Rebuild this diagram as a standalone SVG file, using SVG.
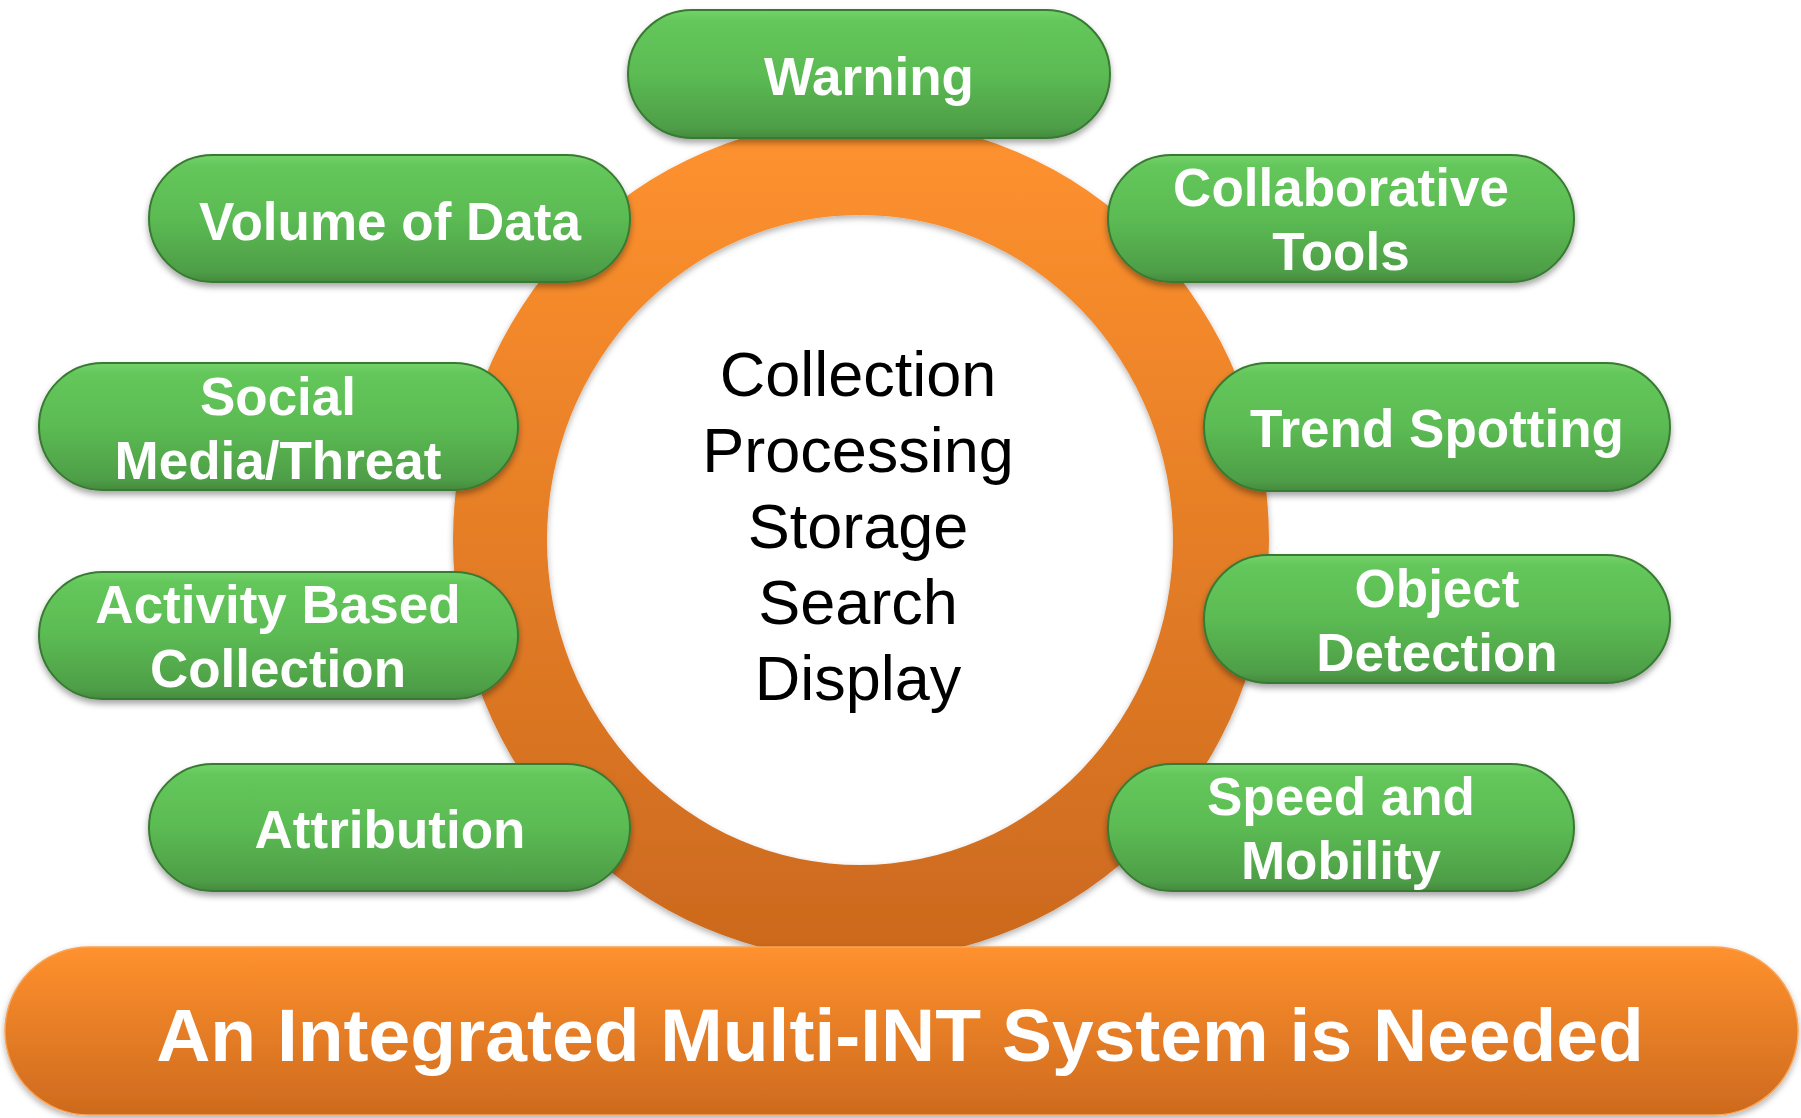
<svg xmlns="http://www.w3.org/2000/svg" width="1801" height="1118" viewBox="0 0 1801 1118">
  <style>
    .pill { fill: url(#greenGrad); stroke: #397a33; stroke-width: 2; filter: url(#pillShadow); }
    .lbl { font-family: "Liberation Sans", Arial, sans-serif; font-weight: bold; font-size: 53px; fill: #ffffff; text-anchor: middle; }
    .core { font-family: "Liberation Sans", Arial, sans-serif; font-size: 63px; fill: #000000; text-anchor: middle; }
    .banner { font-family: "Liberation Sans", Arial, sans-serif; font-weight: bold; font-size: 75px; fill: #ffffff; text-anchor: middle; }
  </style>
  <defs>
    <linearGradient id="greenGrad" x1="0" y1="0" x2="0" y2="1">
      <stop offset="0" stop-color="#74d36b"/>
      <stop offset="0.08" stop-color="#64c75b"/>
      <stop offset="0.5" stop-color="#5bbb53"/>
      <stop offset="0.92" stop-color="#4e9e47"/>
      <stop offset="1" stop-color="#44893e"/>
    </linearGradient>
    <linearGradient id="ringGrad" gradientUnits="userSpaceOnUse" x1="0" y1="120" x2="0" y2="960">
      <stop offset="0" stop-color="#ff922f"/>
      <stop offset="1" stop-color="#cb691e"/>
    </linearGradient>
    <linearGradient id="barGrad" x1="0" y1="0" x2="0" y2="1">
      <stop offset="0" stop-color="#ff912e"/>
      <stop offset="1" stop-color="#cd6a1e"/>
    </linearGradient>
    <filter id="pillShadow" x="-10%" y="-20%" width="120%" height="150%">
      <feDropShadow dx="0" dy="4" stdDeviation="3" flood-color="#000" flood-opacity="0.35"/>
    </filter>
    <filter id="ringShadow" x="-10%" y="-10%" width="120%" height="120%">
      <feDropShadow dx="0" dy="3" stdDeviation="3" flood-color="#000" flood-opacity="0.3"/>
    </filter>
  </defs>

  <rect x="0" y="0" width="1801" height="1118" fill="#ffffff"/>

  <g id="ring">
    <path d="M 453,540 A 408,420 0 1,0 1269,540 A 408,420 0 1,0 453,540 Z M 547,540 A 313,325 0 1,0 1173,540 A 313,325 0 1,0 547,540 Z" fill="url(#ringGrad)" fill-rule="evenodd" filter="url(#ringShadow)"/>
    <text class="core" x="858" y="396">Collection</text>
    <text class="core" x="858" y="472">Processing</text>
    <text class="core" x="858" y="548">Storage</text>
    <text class="core" x="858" y="624">Search</text>
    <text class="core" x="858" y="700">Display</text>
  </g>

  <g id="connectors"></g>

  <g id="warning">
    <rect class="pill" x="628" y="10" width="482" height="128" rx="64" ry="64"/>
    <text class="lbl" x="869" y="95">Warning</text>
  </g>

  <g id="volume-of-data">
    <rect class="pill" x="149" y="155" width="481" height="127" rx="63.5" ry="63.5"/>
    <text class="lbl" x="390" y="240">Volume of Data</text>
  </g>

  <g id="collaborative-tools">
    <rect class="pill" x="1108" y="155" width="466" height="127" rx="63.5" ry="63.5"/>
    <text class="lbl" x="1341" y="206">Collaborative</text>
    <text class="lbl" x="1341" y="270">Tools</text>
  </g>

  <g id="social-media-threat">
    <rect class="pill" x="39" y="363" width="479" height="127" rx="63.5" ry="63.5"/>
    <text class="lbl" x="278" y="415">Social</text>
    <text class="lbl" x="278" y="479">Media/Threat</text>
  </g>

  <g id="trend-spotting">
    <rect class="pill" x="1204" y="363" width="466" height="128" rx="64" ry="64"/>
    <text class="lbl" x="1437" y="447">Trend Spotting</text>
  </g>

  <g id="activity-based-collection">
    <rect class="pill" x="39" y="572" width="479" height="127" rx="63.5" ry="63.5"/>
    <text class="lbl" x="278" y="623">Activity Based</text>
    <text class="lbl" x="278" y="687">Collection</text>
  </g>

  <g id="object-detection">
    <rect class="pill" x="1204" y="555" width="466" height="128" rx="64" ry="64"/>
    <text class="lbl" x="1437" y="607">Object</text>
    <text class="lbl" x="1437" y="671">Detection</text>
  </g>

  <g id="attribution">
    <rect class="pill" x="149" y="764" width="481" height="127" rx="63.5" ry="63.5"/>
    <text class="lbl" x="390" y="848">Attribution</text>
  </g>

  <g id="speed-and-mobility">
    <rect class="pill" x="1108" y="764" width="466" height="127" rx="63.5" ry="63.5"/>
    <text class="lbl" x="1341" y="815">Speed and</text>
    <text class="lbl" x="1341" y="879">Mobility</text>
  </g>

  <g id="integrated-system">
    <rect x="5" y="947" width="1793" height="168" rx="84" ry="84" fill="url(#barGrad)" stroke="#f7a55a" stroke-width="1.5" filter="url(#ringShadow)"/>
    <text class="banner" x="900" y="1061">An Integrated Multi-INT System is Needed</text>
  </g>
</svg>
